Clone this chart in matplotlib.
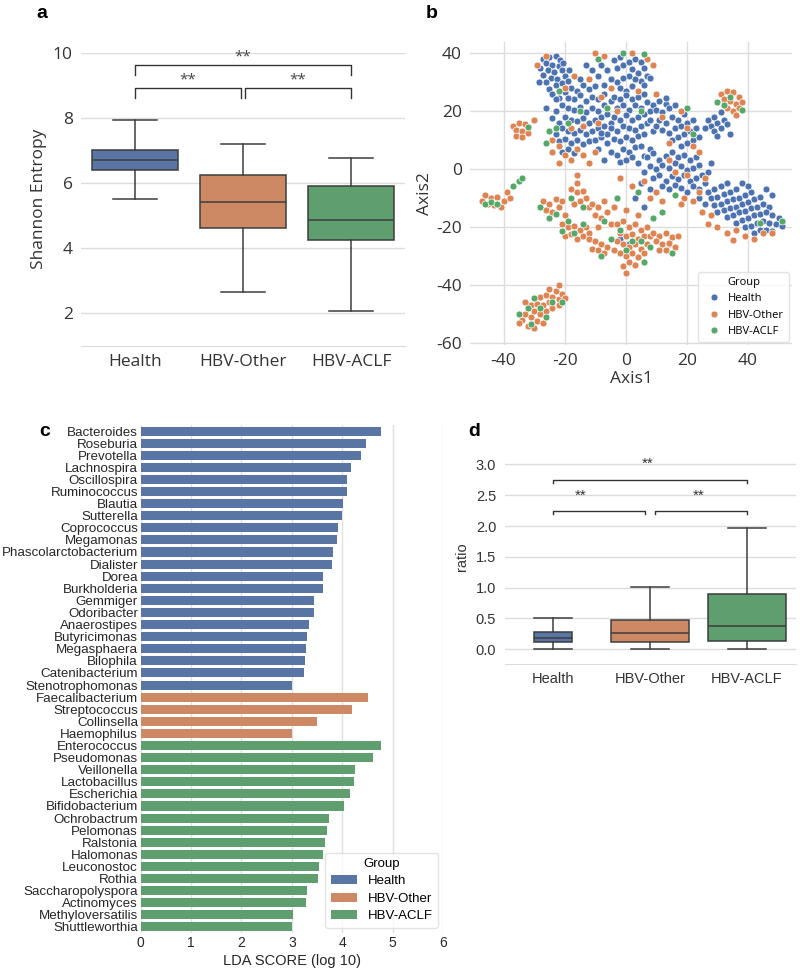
import numpy as np
import matplotlib.pyplot as plt
from matplotlib.patches import Patch
from matplotlib.lines import Line2D

plt.rcParams["axes.unicode_minus"] = False

W, H = 800, 973

groups = ["Health", "HBV-Other", "HBV-ACLF"]
deep = ["#4C72B0", "#DD8452", "#55A868"]
desat = ["#5975a4", "#cc8963", "#5f9e6e"]
dark = "#3d3d3d"

# panel a: Shannon entropy box stats (whislo, q1, med, q3, whishi)
shannon_stats = [
    (5.5, 6.4, 6.72, 7.03, 7.95),
    (2.65, 4.6, 5.42, 6.25, 7.2),
    (2.07, 4.25, 4.87, 5.9, 6.78),
]
shannon_ticks = [2, 4, 6, 8, 10]

# panel d: ratio box stats
ratio_stats = [
    (0.0, 0.12, 0.19, 0.275, 0.51),
    (0.0, 0.12, 0.26, 0.47, 1.01),
    (0.0, 0.135, 0.37, 0.89, 1.97),
]
ratio_ticks = [0.0, 0.5, 1.0, 1.5, 2.0, 2.5, 3.0]

# panel c: LDA scores
taxa = [
    "Bacteroides", "Roseburia", "Prevotella", "Lachnospira", "Oscillospira",
    "Ruminococcus", "Blautia", "Sutterella", "Coprococcus", "Megamonas",
    "Phascolarctobacterium", "Dialister", "Dorea", "Burkholderia", "Gemmiger",
    "Odoribacter", "Anaerostipes", "Butyricimonas", "Megasphaera", "Bilophila",
    "Catenibacterium", "Stenotrophomonas",
    "Faecalibacterium", "Streptococcus", "Collinsella", "Haemophilus",
    "Enterococcus", "Pseudomonas", "Veillonella", "Lactobacillus", "Escherichia",
    "Bifidobacterium", "Ochrobactrum", "Pelomonas", "Ralstonia", "Halomonas",
    "Leuconostoc", "Rothia", "Saccharopolyspora", "Actinomyces",
    "Methyloversatilis", "Shuttleworthia",
]
lda = [
    4.76, 4.48, 4.37, 4.17, 4.10, 4.10, 4.02, 3.99, 3.92, 3.90, 3.82, 3.80,
    3.62, 3.62, 3.44, 3.43, 3.34, 3.31, 3.29, 3.27, 3.25, 3.01,
    4.52, 4.20, 3.50, 3.01,
    4.77, 4.62, 4.26, 4.23, 4.15, 4.04, 3.73, 3.69, 3.65, 3.61, 3.54, 3.52,
    3.31, 3.28, 3.03, 3.01,
]
taxa_group = [0] * 22 + [1] * 4 + [2] * 16

# panel b: t-SNE points
health_pts = [
    (-27, 38), (-25, 38.5), (-23, 39), (-21.5, 37.5), (-26, 36.5), (-24, 36), (-22, 35.5),
    (-28, 35), (-25.5, 34), (-23.5, 33.5), (-21, 34), (-27, 32.5), (-24.5, 31.5), (-22.5, 31),
    (-20, 32), (-26, 30), (-23, 29), (-21, 29.5), (-19, 30.5), (-25, 27.5), (-28.5, 30),
    (-20.5, 36.5), (-18.5, 34),
    (-24, 26), (-22, 24.5), (-20, 26.5), (-18, 28), (-16, 27), (-14, 29), (-12, 27.5),
    (-10, 28.5), (-17, 24), (-15, 25.5), (-13, 23.5), (-11, 25), (-9, 24), (-7, 26),
    (-21, 22), (-19, 21), (-23, 20), (-17, 20.5), (-15, 21.5), (-13, 19.5), (-11, 21),
    (-9, 20), (-7, 22), (-5, 23.5), (-24, 17.5), (-22, 16), (-20, 18), (-18, 17),
    (-16, 16.5), (-14, 17.5), (-12, 16), (-10, 17), (-8, 18), (-6, 19), (-25, 13),
    (-23, 12), (-21, 14), (-19, 13), (-17, 12.5), (-15, 13.5), (-13, 12), (-11, 13),
    (-9, 14), (-7, 15), (-22, 9.5), (-20, 10.5), (-18, 9), (-16, 10), (-14, 8.5),
    (-12, 9.5), (-10, 10), (-8, 11), (-6, 12), (-21, 6), (-19, 7), (-17, 5.5),
    (-23, 24), (-26, 21), (-19, 24.5), (-5, 16),
    (-8, 36), (-6, 34), (-4, 37.5), (-2, 38.5), (-3, 35), (-1, 36), (1, 37), (3, 38),
    (5, 37), (2, 34.5), (4, 33), (6, 35), (7, 32), (5, 30.5), (3, 31), (1, 32),
    (-1, 31.5), (-3, 30), (-5, 31), (-7, 29), (-2, 28), (0, 27), (2, 28.5), (6, 29),
    (8, 31.5), (-9, 32), (-11, 34), (-13, 36), (-15, 31),
    (-4, 25), (-2, 24), (0, 25.5), (2, 24), (4, 25), (6, 26), (-3, 21), (-1, 22),
    (1, 20.5), (3, 22), (5, 21), (7, 23), (-4, 18), (-2, 17), (0, 18.5), (2, 17),
    (4, 18), (6, 19), (8, 20), (-5, 14), (-3, 13), (-1, 15), (1, 14), (3, 13.5),
    (5, 15), (7, 16), (-6, 9), (-4, 10.5), (-2, 9.5), (0, 11), (2, 10), (4, 11.5),
    (6, 12), (-5, 6), (-3, 5), (-1, 7), (1, 6), (3, 7.5), (5, 8), (-2, 2.5), (0, 3),
    (2, 4), (4, 2), (6, 4.5), (-7, 3), (-9, 7), (8, 7), (9, 13), (-8, 12.5),
    (9, 22), (11, 23.5), (13, 22.5), (10, 20.5), (12, 19.5), (14, 21), (16, 22),
    (11, 17), (13, 16), (15, 18), (17, 17), (19, 19), (12, 13.5), (14, 12.5), (16, 14),
    (18, 15), (20, 16), (22, 17), (15, 10), (17, 11), (19, 12), (21, 13), (23, 14),
    (18, 8), (20, 9), (22, 10), (10, 15), (8, 17), (24, 11), (13, 24.5),
    (27, 17), (29, 18), (31, 19.5), (28, 15), (30, 16), (32, 17), (29, 13), (31, 14),
    (33, 15.5), (30, 11.5), (34, 12), (26, 14),
    (7, 4), (9, 5.5), (11, 3), (13, 4.5), (15, 6), (17, 4), (19, 5), (21, 3), (23, 4),
    (8, 1), (10, 0), (12, 1.5), (14, 0.5), (16, 2), (18, 1), (20, -0.5), (22, 0.5),
    (24, 1.5), (9, -3), (11, -2), (13, -4), (15, -2.5), (17, -3.5), (19, -2), (21, -4),
    (23, -3), (25, -2), (12, -6), (14, -7), (16, -5.5), (18, -6.5), (20, -8), (22, -6),
    (24, -7), (26, -5), (6, -1), (5, -5), (8, -7), (27, -1), (28, 2),
    (27, -8), (29, -7), (31, -6), (33, -5), (28, -10), (30, -9.5), (32, -8.5), (34, -8),
    (36, -7), (29, -12.5), (31, -12), (33, -11), (35, -10.5), (37, -10), (39, -9),
    (41, -8), (30, -15), (32, -14), (34, -13.5), (36, -13), (38, -12), (40, -11.5),
    (42, -10.5), (44, -9.5), (33, -16.5), (35, -16), (37, -15), (39, -14.5), (41, -13.5),
    (43, -13), (45, -12), (47, -13), (36, -18.5), (38, -17.5), (40, -17), (42, -16),
    (44, -15.5), (46, -15), (48, -16), (50, -17), (39, -20), (41, -19.5), (43, -18.5),
    (45, -18), (47, -18.5), (49, -19), (51, -19.5), (42, -22), (44, -21), (46, -21),
    (48, -21.5), (26, -12), (24, -10), (46, -7), (48, -9), (38, -5), (40, -6),
    (3, -10), (6, -13), (1, -26), (10, -25), (14, -26), (-2, -24),
]
other_pts = [
    (31, 26), (33, 27), (35, 26.5), (37, 25), (32, 24), (34, 23.5), (36, 22.5), (38, 23),
    (33, 21), (35, 20), (37, 21), (36, 18.5),
    (-29, 36), (-26, 39), (-10, 40), (-7, 39), (-17, 32), (-20, 28), (-12, 31), (-8, 25),
    (-14, 15), (-5, 28), (2, 40), (7, 38), (9, 36), (-18, 14), (-9, 16), (4, 27), (10, 26),
    (12, 18), (18, 20), (20, 14), (14, 9), (22, 8), (24, 6), (16, -1), (26, -3), (19, -10),
    (28, -16), (10, -8), (-3, 20), (-16, 7),
    (-37, 15), (-35, 16), (-33, 15.5), (-36, 13.5), (-34, 13), (-36, 11.5), (-34, 11),
    (-32, 12.5), (-30, 17),
    (-24, 10), (-22, 8), (-20, 5), (-18, 3), (-24, 6), (-22, 2), (-16, -2), (-12, 2),
    (-10, 6), (-14, 5),
    (-46, -9), (-44, -10), (-42, -9.5), (-40, -11), (-45, -12), (-43, -12.5), (-41, -13),
    (-47, -11), (-39, -8), (-38, -10),
    (-27, -11), (-25, -12), (-23, -10.5), (-26, -14), (-24, -15), (-22, -13), (-20, -16),
    (-21, -11),
    (-21, -19), (-19, -20), (-17, -19.5), (-15, -21), (-13, -20), (-20, -23), (-18, -22.5),
    (-16, -24), (-14, -23), (-12, -22),
    (-18, -7), (-16, -8), (-14, -7.5), (-13, -10), (-15, -11), (-17, -12), (-12, -13),
    (-16, -5),
    (-12, -24), (-10, -25), (-8, -26), (-11, -27.5), (-9, -28), (-7, -29), (-6, -27),
    (-11, -12), (-9, -13), (-7, -11), (-10, -16), (-8, -17), (-6, -15), (-5, -19),
    (-9, -20), (-4, -13),
    (-3, -19), (-1, -18), (1, -20), (3, -19), (5, -21), (-2, -22), (0, -23), (2, -22.5),
    (4, -24), (6, -23), (-3, -25), (-1, -26), (1, -27), (3, -26), (5, -27.5), (7, -26),
    (-2, -29), (0, -30), (2, -29), (4, -30.5), (6, -29), (1, -32), (3, -33), (-1, -33.5),
    (0, -36), (-4, -28), (8, -23), (7, -20), (4, -16), (0, -14),
    (9, -22), (11, -23), (13, -22), (15, -23.5), (10, -25), (12, -26), (14, -25.5),
    (16, -27), (17, -23), (11, -28), (13, -28),
    (-34, -52), (-32, -54), (-33, -50), (-31, -51), (-29, -52.5), (-30, -49), (-28, -50),
    (-26, -49), (-31, -47), (-29, -46.5), (-27, -47), (-25, -46), (-28, -44), (-26, -43.5),
    (-24, -44), (-22, -45), (-23, -42), (-21, -43), (-25, -41.5), (-22, -47), (-20, -44.5),
    (-24, -48), (-33, -46), (-27, -53), (-30, -55), (-35, -53), (-22, -40),
    (27, -19), (30, -20), (33, -22), (36, -21), (39, -23), (42, -24), (45, -22),
    (35, -24.5), (25, -15), (48, -22),
    (6, -4), (8, -10), (12, -11), (18, -12), (22, -11), (20, -2), (14, 3), (24, -8),
    (2, -6), (-2, -3),
]
aclf_pts = [
    (32, 22), (34, 25), (38, 20.5), (30, 23),
    (-22, 27), (-1, 40), (6, 39.5), (-9, 38), (-15, 20), (-6, 21), (5, 20), (20, 21),
    (22, 12), (-19, 16),
    (-32, 14.5), (-25, 13), (-23, 14), (-26, 9),
    (-46, -12), (-44, -11.5), (-42, -12), (-37, -6), (-35, -4), (-34, -3),
    (-25, -17), (-23, -15.5), (-28, -13),
    (-19, -18), (-17, -22), (-21, -21.5), (-14, -19),
    (-14, -13), (-18, -10), (-8, -30), (-5, -24), (-7, -18), (-3, -10),
    (-2, -21), (2, -25), (0, -28), (5, -25), (6, -32), (8, -27), (15, -29),
    (-35, -50), (-32, -48), (-30, -44.5), (-28, -48), (-26, -51), (-24, -46), (-21, -46),
    (-31, -53.5), (51, -18), (44, -18.5), (4, -8), (16, -9), (9, -17), (12, -15),
]

fig = plt.figure(figsize=(W / 100, H / 100), dpi=100)


def px_axes(l, t, r, b):
    return fig.add_axes([l / W, 1 - b / H, (r - l) / W, (b - t) / H])


def box_panel(ax, stats, widths, font, fsize):
    bx = [dict(whislo=s[0], q1=s[1], med=s[2], q3=s[3], whishi=s[4]) for s in stats]
    art = ax.bxp(bx, positions=[0, 1, 2], widths=widths, capwidths=[0.4] * 3,
                 patch_artist=True, showfliers=False,
                 boxprops=dict(edgecolor=dark, linewidth=1.1),
                 whiskerprops=dict(color=dark, linewidth=1.1),
                 capprops=dict(color=dark, linewidth=1.1),
                 medianprops=dict(color=dark, linewidth=1.1))
    for patch, c in zip(art["boxes"], desat):
        patch.set_facecolor(c)
    ax.set_xlim(-0.5, 2.5)
    ax.set_xticks([0, 1, 2])
    ax.set_xticklabels(groups, fontsize=fsize, family=font, color="#333333")
    ax.tick_params(length=0, pad=6)
    ax.grid(axis="y", color="#dcdcdc", linewidth=1)
    ax.set_axisbelow(True)
    for s in ["top", "right", "left"]:
        ax.spines[s].set_visible(False)
    ax.spines["bottom"].set_color("#dcdcdc")


def bracket(ax, x0, x1, y, h):
    ax.plot([x0, x0, x1, x1], [y - h, y, y, y - h], color="#333333", lw=1, clip_on=False)


# ---- panel a
ax_a = px_axes(81, 53, 405, 345.5)
box_panel(ax_a, shannon_stats, 0.8, "Open Sans", 12.5)
ax_a.set_ylim(1, 10)
ax_a.set_yticks(shannon_ticks)
ax_a.set_yticklabels([str(t) for t in shannon_ticks], fontsize=12.5, family="Open Sans", color="#333333")
ax_a.set_ylabel("Shannon Entropy", fontsize=12.5, family="Open Sans", color="#333333", labelpad=4)
bracket(ax_a, 0, 0.98, 8.92, 0.32)
bracket(ax_a, 1.02, 2, 8.92, 0.32)
bracket(ax_a, 0, 2, 9.63, 0.31)
for xx, yy in [(0.49, 8.95), (1.51, 8.95), (1.0, 9.66)]:
    ax_a.text(xx, yy, "**", ha="center", va="bottom", fontsize=11, color="#444444", family="Open Sans")

# ---- panel b
ax_b = px_axes(470, 42, 792, 345)
for pts, c in zip([health_pts, other_pts, aclf_pts], deep):
    arr = np.array(pts)
    ax_b.scatter(arr[:, 0], arr[:, 1], s=25, color=c, edgecolor="white", linewidth=0.5, zorder=3)
ax_b.set_xlim(-51, 54.4)
ax_b.set_ylim(-60.7, 43.8)
ax_b.set_xticks([-40, -20, 0, 20, 40])
ax_b.set_yticks([-60, -40, -20, 0, 20, 40])
ax_b.tick_params(labelsize=12.5, length=0, pad=6, labelcolor="#333333")
for lab in ax_b.get_xticklabels() + ax_b.get_yticklabels():
    lab.set_family("Open Sans")
ax_b.set_xlabel("Axis1", fontsize=12.5, family="Open Sans", color="#333333", labelpad=1)
ax_b.set_ylabel("Axis2", fontsize=12.5, family="Open Sans", color="#333333", labelpad=2)
ax_b.grid(color="#dcdcdc", linewidth=1)
ax_b.set_axisbelow(True)
for s in ax_b.spines.values():
    s.set_visible(False)
handles_b = [Line2D([], [], marker="o", linestyle="", markersize=5, markerfacecolor=c,
                    markeredgecolor="white", markeredgewidth=0.5) for c in deep]
leg_b = ax_b.legend(handles_b, groups, title="Group", loc="lower right",
                    title_fontsize=8, frameon=True, borderaxespad=0.3, handletextpad=0.3,
                    prop={"family": "Open Sans", "size": 8})
leg_b.get_title().set_family("Open Sans")
leg_b.get_frame().set_edgecolor("#dddddd")

# ---- panel c
ax_c = px_axes(140.7, 425, 443, 933)
ypos = np.arange(len(taxa))
ax_c.barh(ypos, lda, height=0.75, color=[desat[g] for g in taxa_group], zorder=2)
ax_c.set_ylim(len(taxa) - 0.5, -0.5)
ax_c.set_xlim(0, 6)
ax_c.set_yticks(ypos)
ax_c.set_yticklabels(taxa, fontsize=9.6, family="Liberation Sans", color="#262626")
ax_c.set_xticks(range(7))
ax_c.tick_params(axis="both", length=0, pad=2)
ax_c.tick_params(axis="x", labelsize=10, labelcolor="#262626")
for lab in ax_c.get_xticklabels():
    lab.set_family("Liberation Sans")
ax_c.set_xlabel("LDA SCORE (log 10)", fontsize=10.5, family="Liberation Sans", color="#262626", labelpad=3)
ax_c.grid(axis="x", color="#e0e0e0", linewidth=1)
ax_c.set_axisbelow(True)
for s in ax_c.spines.values():
    s.set_visible(False)
handles_c = [Patch(facecolor=c) for c in desat]
leg_c = ax_c.legend(handles_c, groups, title="Group", loc="lower right",
                    prop={"family": "Liberation Sans", "size": 9.5}, frameon=True,
                    borderaxespad=0.4, labelspacing=0.4)
leg_c.get_title().set_family("Liberation Sans")
leg_c.get_title().set_fontsize(9.5)
leg_c.get_frame().set_edgecolor("#dddddd")

# ---- panel d
ax_d = px_axes(504.5, 449, 795.5, 664)
box_panel(ax_d, ratio_stats, [0.4, 0.8, 0.8], "Liberation Sans", 10.5)
ax_d.set_ylim(-0.24, 3.25)
ax_d.set_yticks(ratio_ticks)
ax_d.set_yticklabels([f"{t:.1f}" for t in ratio_ticks], fontsize=10.5, family="Liberation Sans", color="#333333")
ax_d.set_ylabel("ratio", fontsize=10.5, family="Liberation Sans", color="#333333", labelpad=5)
bracket(ax_d, 0, 0.95, 2.24, 0.05)
bracket(ax_d, 1.05, 2, 2.24, 0.05)
bracket(ax_d, 0, 2, 2.75, 0.05)
for xx, yy in [(0.28, 2.38), (1.5, 2.38), (0.98, 2.9)]:
    ax_d.text(xx, yy, "**", ha="center", va="bottom", fontsize=11, color="#333333", family="Liberation Sans")

# panel letters
for letter, (x, y) in {"a": (42, 14), "b": (432, 14), "c": (45, 432), "d": (474, 432)}.items():
    fig.text(x / W, 1 - y / H, letter, fontsize=14, fontweight="bold", ha="center", va="center",
             family="Liberation Sans")

fig.savefig("out.png", dpi=100)
